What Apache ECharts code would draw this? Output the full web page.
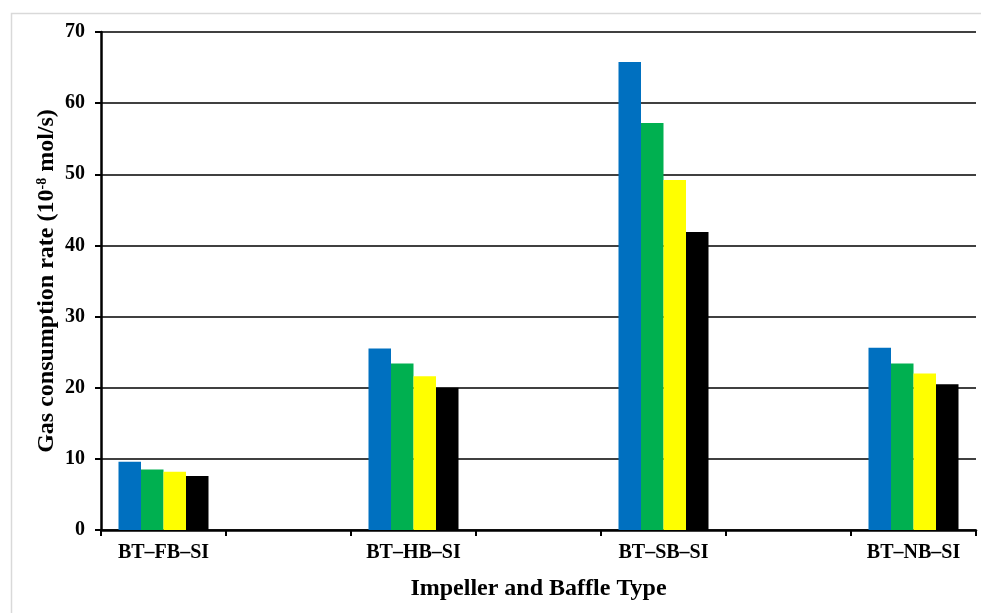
<!DOCTYPE html>
<html>
<head>
<meta charset="utf-8">
<script src="https://cdn.jsdelivr.net/npm/echarts@6/dist/echarts.min.js"></script>
<style>
  html, body { margin: 0; padding: 0; background: #fff; }
  #chart { width: 981px; height: 613px; }
</style>
</head>
<body>
<div id="chart"></div>
<script>
// Impeller / baffle configurations
const configs = ['BT–FB–SI', 'BT–HB–SI', 'BT–SB–SI', 'BT–NB–SI'];

// Gas consumption rate (10^-8 mol/s), four runs per configuration
const runA = [9.6, 25.5, 65.8, 25.6];
const runB = [8.5, 23.4, 57.2, 23.4];
const runC = [8.2, 21.6, 49.2, 22.0];
const runD = [7.6, 20.0, 41.9, 20.5];

const barColors = ['#0070C0', '#00B050', '#FFFF00', '#000000'];

// Configurations sit on every other band, with empty bands between them
const categories = [];
configs.forEach((c, i) => {
  categories.push(c);
  if (i < configs.length - 1) categories.push('');
});
function spread(values) {
  const out = [];
  values.forEach((v, i) => {
    out.push(v);
    if (i < values.length - 1) out.push('-');
  });
  return out;
}

const serif = '"Liberation Serif", "Times New Roman", serif';
const chart = echarts.init(document.getElementById('chart'));

chart.setOption({
  animation: false,
  backgroundColor: '#ffffff',
  graphic: [{
    type: 'polyline',
    shape: { points: [[11.5, 613], [11.5, 13.5], [981, 13.5]] },
    style: { stroke: '#d9d9d9', lineWidth: 1.5, fill: null },
    silent: true
  }],
  grid: { left: 101, right: 5, top: 32, bottom: 83, containLabel: false },
  xAxis: {
    type: 'category',
    data: categories,
    name: 'Impeller and Baffle Type',
    nameLocation: 'middle',
    nameGap: 47,
    nameTextStyle: { fontFamily: serif, fontWeight: 'bold', fontSize: 24, color: '#000' },
    axisLine: { lineStyle: { color: '#000', width: 2.5 } },
    axisTick: { show: true, interval: 0, length: 6, lineStyle: { color: '#000', width: 2 } },
    axisLabel: { interval: 0, margin: 13, fontFamily: serif, fontWeight: 'bold', fontSize: 20, color: '#000' },
    splitLine: { show: false }
  },
  yAxis: {
    type: 'value',
    min: 0,
    max: 70,
    interval: 10,
    name: '{t|Gas consumption rate (10}{s|-8}{t| mol/s)}',
    nameLocation: 'middle',
    nameRotate: 90,
    nameGap: 42,
    nameMoveOverlap: false,
    nameTextStyle: {
      fontFamily: serif, fontWeight: 'bold', color: '#000',
      rich: {
        t: { fontFamily: serif, fontWeight: 'bold', fontSize: 24, color: '#000' },
        s: { fontFamily: serif, fontWeight: 'bold', fontSize: 14, color: '#000', verticalAlign: 'top', padding: [0, 0, 10, 0] }
      }
    },
    axisLine: { show: true, lineStyle: { color: '#000', width: 2.5 } },
    axisTick: { show: true, length: 6, lineStyle: { color: '#000', width: 2 } },
    axisLabel: { margin: 16, fontFamily: serif, fontWeight: 'bold', fontSize: 20, color: '#000' },
    splitLine: { show: true, lineStyle: { color: '#000', width: 1.5 } }
  },
  series: [runA, runB, runC, runD].map((vals, i) => ({
    type: 'bar',
    data: spread(vals),
    barWidth: 22.5,
    barGap: '0%',
    itemStyle: { color: barColors[i] }
  }))
});
</script>
</body>
</html>
